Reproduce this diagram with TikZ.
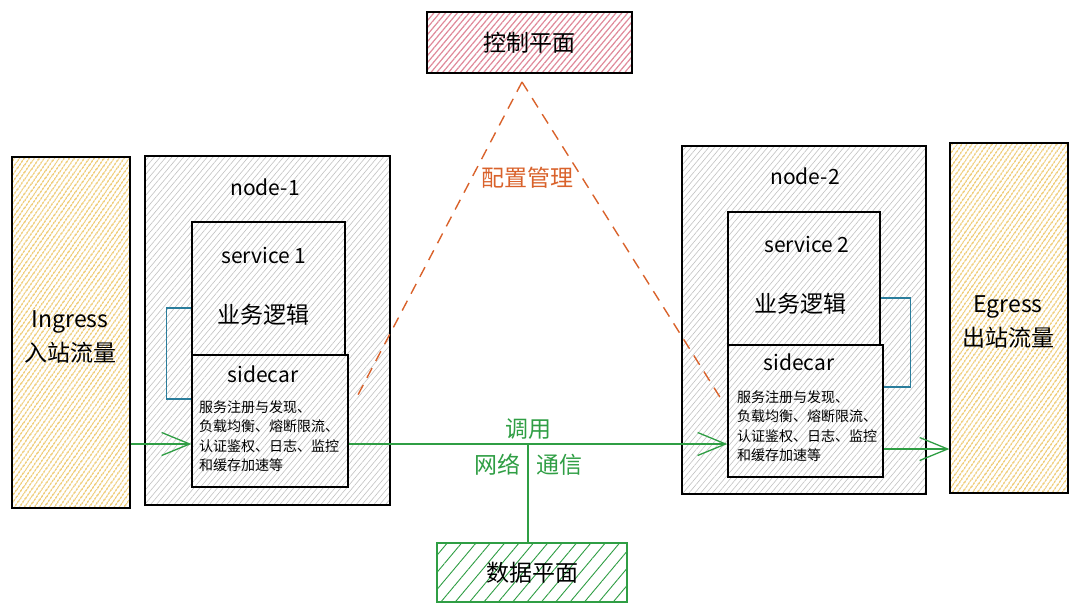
\documentclass[tikz,border=0pt]{standalone}
\usepackage{fontspec}
\setmainfont{Noto Sans CJK SC}
\usetikzlibrary{patterns.meta,arrows.meta,calc}
\definecolor{hatchgray}{HTML}{C2C2C2}
\definecolor{hatchyellow}{HTML}{E9B840}
\definecolor{hatchred}{HTML}{E0899A}
\definecolor{meshgreen}{HTML}{2F9E44}
\definecolor{cfgorange}{HTML}{D9622B}
\definecolor{loopteal}{HTML}{2A7D9C}
\tikzset{
  box/.style={draw=black, line width=1.3pt, inner sep=0pt, preaction={fill=white}},
  graybox/.style={box, pattern={Lines[angle=50,distance=4.5pt,line width=0.6pt]}, pattern color=hatchgray},
  yellowbox/.style={box, pattern={Lines[angle=55,distance=4pt,line width=1.3pt]}, pattern color=hatchyellow},
  redbox/.style={box, pattern={Lines[angle=50,distance=4.5pt,line width=1.2pt]}, pattern color=hatchred},
  greenbox/.style={box, draw=meshgreen, pattern={Lines[angle=50,distance=11pt,line width=0.9pt]}, pattern color=meshgreen},
  big/.style={font=\fontsize{23}{34}\selectfont},
  title/.style={font=\fontsize{21}{24}\selectfont},
  small/.style={font=\fontsize{14}{19.5}\selectfont, align=left, inner sep=0pt},
  call/.style={draw=meshgreen, line width=1.3pt},
  flow/.style={call, -{Straight Barb[length=28pt,width=23pt,line width=1.3pt]}},
  cfgline/.style={draw=cfgorange, line width=1.4pt, dash pattern=on 11pt off 8pt},
  loop/.style={draw=loopteal, line width=1.4pt}
}
\begin{document}
\begin{tikzpicture}[x=1pt,y=-1pt]
\useasboundingbox (0,0) rectangle (1080,614);

\node[redbox, minimum width=205pt, minimum height=61pt, big] (ctrl) at (529.5,42.5) {控制平面};
\node[greenbox, minimum width=190pt, minimum height=59pt, big] (data) at (532,572.5) {数据平面};

\node[yellowbox, minimum width=118pt, minimum height=351pt] (ingress) at (71,332.5) {};
\node[yellowbox, minimum width=118pt, minimum height=350pt] (egress) at (1009,318) {};
\node[big, align=center] at (70,337) {Ingress\\入站流量};
\node[big, align=center] at (1008,322) {Egress\\出站流量};

\node[graybox, minimum width=245pt, minimum height=349pt] (node1) at (267.5,330.5) {};
\node[graybox, minimum width=153pt, minimum height=133pt] (svc1) at (268.5,288.5) {};
\node[graybox, minimum width=156pt, minimum height=132pt] (car1) at (270,421) {};
\node[title] at (265,187) {node-1};
\node[title] at (264,255) {service 1};
\node[big] at (263,315) {业务逻辑};
\node[title] at (263,374) {sidecar};
\node[small, anchor=north west] at (199,400) {服务注册与发现、\\负载均衡、熔断限流、\\认证鉴权、日志、监控\\和缓存加速等};

\node[graybox, minimum width=244pt, minimum height=348pt] (node2) at (804,320) {};
\node[graybox, minimum width=152pt, minimum height=133pt] (svc2) at (804,278.5) {};
\node[graybox, minimum width=155pt, minimum height=132pt] (car2) at (805.5,411) {};
\node[title] at (805,176) {node-2};
\node[title] at (807,244) {service 2};
\node[big] at (800,304) {业务逻辑};
\node[title] at (799,362) {sidecar};
\node[small, anchor=north west] at (737,390) {服务注册与发现、\\负载均衡、熔断限流、\\认证鉴权、日志、监控\\和缓存加速等};

\draw[loop] (svc1.west |- 0,308) -- ++(-25,0) |- (car1.west |- 0,399);
\draw[loop] (svc2.east |- 0,298) -- ++(30,0) |- (car2.east |- 0,387);

\coordinate (cfg) at (522,82);
\draw[cfgline] (cfg) -- ($(car1.north east)+(7,45)$);
\draw[cfgline] (cfg) -- ($(car2.north west)+(-6,55)$);
\node[big, text=cfgorange] at (527,178) {配置管理};

\draw[flow] (ingress.east |- 0,444) -- (car1.west |- 0,444);
\draw[flow] (car1.east |- 0,444) -- (car2.west |- 0,444);
\draw[flow] (car2.east |- 0,449) -- (egress.west |- 0,449);
\coordinate (split) at (528,444);
\draw[call] (split) -- (data.north -| split);
\node[big, text=meshgreen, above=1pt] at (split) {调用};
\node[big, text=meshgreen, anchor=east] at (524,465) {网络};
\node[big, text=meshgreen, anchor=west] at (533,465) {通信};
\end{tikzpicture}
\end{document}
